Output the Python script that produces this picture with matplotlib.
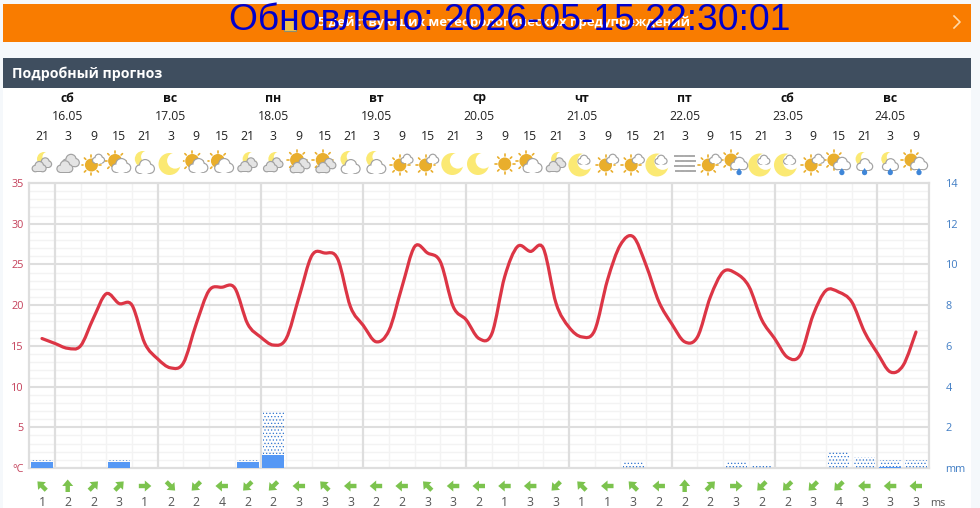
import numpy as np
import matplotlib
matplotlib.use('Agg')
import matplotlib.pyplot as plt
from matplotlib.path import Path
from matplotlib.patches import PathPatch, Rectangle, Circle, Polygon

plt.rcParams['font.family'] = ['Open Sans', 'DejaVu Sans']
plt.rcParams['hatch.linewidth'] = 0.5

TITLE = 'Подробный прогноз'
BANNER = '5 действующих метеорологических предупреждений'
STAMP = 'Обновлено: 2026-05-15 22:30:01'
DAY_NAMES = ['сб', 'вс', 'пн', 'вт', 'ср', 'чт', 'пт', 'сб', 'вс']
DATES = ['16.05', '17.05', '18.05', '19.05', '20.05', '21.05', '22.05', '23.05', '24.05']
HOURS = [21, 3, 9, 15] * 8 + [21, 3, 9]
# temperature every 3 hours, starting at the first 21h column
TEMP = [15.9, 15.3, 14.7, 15.0, 18.4, 21.4, 20.2, 20.0, 15.3, 13.4, 12.3, 12.9,
        17.7, 21.8, 22.2, 22.1, 17.7, 16.1, 15.1, 15.9, 21.0, 26.1, 26.4, 25.7,
        19.8, 17.5, 15.5, 16.9, 22.2, 27.2, 26.4, 25.3, 19.8, 18.2, 15.9, 16.5,
        23.5, 27.2, 26.6, 27.0, 20.2, 17.3, 16.1, 16.9, 23.1, 27.4, 28.4, 24.9,
        20.4, 17.7, 15.5, 16.1, 21.0, 24.1, 23.9, 22.3, 18.2, 15.9, 13.6, 13.9,
        18.8, 21.8, 21.6, 20.4, 16.7, 14.1, 11.8, 12.6, 16.7]
RAIN_SOLID = [0.3, 0, 0, 0.3, 0, 0, 0, 0, 0.3, 0.65, 0, 0, 0, 0, 0, 0, 0, 0,
              0, 0, 0, 0, 0, 0, 0, 0, 0, 0, 0, 0, 0, 0, 0, 0.05, 0]
RAIN_TOTAL = [0.4, 0, 0, 0.4, 0, 0, 0, 0, 0.4, 2.75, 0, 0, 0, 0, 0, 0, 0, 0,
              0, 0, 0, 0, 0, 0.3, 0, 0, 0, 0.3, 0.1, 0, 0, 0.85, 0.55, 0.4, 0.4]
WIND_SPEED = [1, 2, 2, 3, 1, 2, 2, 4, 2, 2, 3, 3, 3, 2, 2, 3, 3, 2,
              1, 3, 3, 1, 1, 3, 2, 2, 2, 3, 2, 2, 3, 4, 3, 3, 3]
WIND_DIR = ['NW', 'N', 'NE', 'NE', 'E', 'SE', 'SW', 'W', 'SW', 'SW', 'W', 'NW', 'W', 'W', 'W', 'NW', 'W', 'W',
            'W', 'W', 'SW', 'NW', 'W', 'NW', 'W', 'N', 'NE', 'E', 'SW', 'SW', 'SW', 'SW', 'W', 'W', 'W']
ICONS = ['nc2', 'cc', 'sc', 'cs', 'mc', 'm', 'cs', 'cs', 'nc2', 'nc2', 'scc', 'scc', 'mc', 'mc', 'sc', 'sc', 'm', 'm',
         's', 'cs', 'nc2', 'ms', 'sc', 'sc', 'ms', 'fog', 'sc', 'csr', 'ms', 'ms', 'sc', 'csr', 'mcr', 'mcr', 'csr']

W, H = 980, 508
PAGE = '#f5f8fb'
RED = '#dc3545'
TICK_RED = '#c4405a'
TICK_BLUE = '#3f7cc4'
GRID_MAJOR = '#dedede'
GRID_MINOR = '#f3f3f3'

fig = plt.figure(figsize=(W / 100, H / 100), dpi=100, facecolor=PAGE)

bg = fig.add_axes([0, 0, 1, 1], zorder=0)
bg.set_xlim(0, W); bg.set_ylim(H, 0); bg.axis('off')
bg.add_patch(Rectangle((3, 88), 968, 420, fc='white', ec='none'))
bg.add_patch(Rectangle((3, 4), 968, 38, fc='#f97c00', ec='none'))
bg.add_patch(Rectangle((3, 58), 968, 30, fc='#3f4e5f', ec='none'))
bg.text(12, 73.5, TITLE, color='white', fontsize=10.2, fontweight='bold', va='center', ha='left')
bg.text(504, 22.5, BANNER, color='white', fontsize=9.4, fontweight='bold', va='center', ha='center')
bg.add_patch(Rectangle((284, 18), 12, 13, fc='#f2c14e', ec='#8d8d70', lw=0.8))
bg.plot([954, 960, 954], [16, 22, 28], color='#ffd9a8', lw=1.2)

L, R, T, B = 29.15, 928.85, 183, 468
ax = fig.add_axes([L / W, 1 - B / H, (R - L) / W, (B - T) / H], zorder=2)
ax.set_xlim(-0.5, 34.5)
ax.set_ylim(0, 35)
ax.patch.set_alpha(0)
for s in ax.spines.values():
    s.set_color(GRID_MAJOR); s.set_linewidth(1.6)
ax.set_yticks(range(0, 36, 5))
ax.set_yticklabels(['°C'] + [str(v) for v in range(5, 36, 5)], color=TICK_RED, fontsize=7.8)
ax.set_yticks(range(0, 36), minor=True)
day_edges = [i + 0.5 for i in range(0, 34, 4)]
ax.set_xticks(day_edges)
ax.set_xticks([i + 0.5 for i in range(34) if i % 4], minor=True)
ax.set_xticklabels([])
ax.tick_params(which='both', length=0)
ax.tick_params(axis='y', pad=4)
ax.grid(which='minor', color=GRID_MINOR, lw=1.0)
ax.set_axisbelow(True)
for v in range(5, 35, 5):
    ax.axhline(v, color=GRID_MAJOR, lw=1.5, zorder=1)
for e in day_edges:
    ax.axvline(e, color=GRID_MAJOR, lw=1.6, zorder=1)

rain = ax.twinx()
rain.set_ylim(0, 14)
rain.patch.set_alpha(0)
for s in rain.spines.values():
    s.set_visible(False)
rain.set_yticks(range(0, 15, 2))
rain.set_yticklabels(['mm'] + [str(v) for v in range(2, 15, 2)], color=TICK_BLUE, fontsize=7.8)
rain.tick_params(length=0, pad=12)
slots = np.arange(len(RAIN_TOTAL))
rain.bar(slots, RAIN_TOTAL, width=0.82, facecolor='none', edgecolor='#2f74d0', linewidth=0, hatch='.....')
rain.bar(slots, RAIN_SOLID, width=0.86, color='#5598f5')

tx = np.arange(len(TEMP)) * 0.5
ty = np.array(TEMP)
verts = [(tx[0], ty[0])]
codes = [Path.MOVETO]
n = len(tx)
for k in range(n - 1):
    p0 = np.array([tx[max(k - 1, 0)], ty[max(k - 1, 0)]])
    p1 = np.array([tx[k], ty[k]])
    p2 = np.array([tx[k + 1], ty[k + 1]])
    p3 = np.array([tx[min(k + 2, n - 1)], ty[min(k + 2, n - 1)]])
    verts += [tuple(p1 + (p2 - p0) / 6), tuple(p2 - (p3 - p1) / 6), tuple(p2)]
    codes += [Path.CURVE4] * 3
rain.add_patch(PathPatch(Path(verts, codes), fc='none', ec=RED, lw=2.3, capstyle='round',
                         transform=ax.transData, zorder=5))

ov = fig.add_axes([0, 0, 1, 1], zorder=3)
ov.set_xlim(0, W); ov.set_ylim(H, 0); ov.axis('off'); ov.patch.set_alpha(0)
fig.canvas.draw()
def px(i):
    return ax.transData.transform((i, 0))[0]

for d, (name, date) in enumerate(zip(DAY_NAMES, DATES)):
    x = px(1 + 4 * d)
    ov.text(x, 98, name, fontsize=8.8, fontweight='bold', ha='center', va='center', color='#111111')
    ov.text(x, 116, date, fontsize=8.8, ha='center', va='center', color='#222222')
for i, h in enumerate(HOURS):
    ov.text(px(i), 136, str(h), fontsize=8.8, ha='center', va='center', color='#222222')

YEL = '#fbe973'
SUN = '#e9ae2c'
GREY = '#a2a2a2'

def circ(x, y, r, c, z=1):
    ov.add_patch(Circle((x, y), r, fc=c, ec='none', zorder=z))

def cloud(x, y, w, fill='white', edge=GREY, z=2):
    blobs = [(-0.28, 0.12, 0.2), (0.02, -0.1, 0.28), (0.28, 0.1, 0.22)]
    for pad, col, zz in ((1.2, edge, z), (0, fill, z + 0.1)):
        for bx, by, br in blobs:
            circ(x + bx * w, y + by * w, br * w + pad, col, zz)
        ov.add_patch(Rectangle((x - 0.3 * w - pad / 2, y + 0.05 * w), 0.6 * w + pad, 0.27 * w + pad * 0.6,
                               fc=col, ec='none', zorder=zz))

def sun(x, y, r, z=1):
    circ(x, y, r, SUN, z)
    for a in np.arange(0, 360, 45):
        c, s = np.cos(np.radians(a)), np.sin(np.radians(a))
        ov.plot([x + c * (r + 1.5), x + c * (r + 3.4)], [y + s * (r + 1.5), y + s * (r + 3.4)],
                color=SUN, lw=1.2, zorder=z, solid_capstyle='round')

def moon(x, y, r, z=1):
    circ(x, y, r, YEL, z)
    circ(x + 0.5 * r, y - 0.3 * r, 0.72 * r, 'white', z + 0.01)

def drop(x, y):
    ov.add_patch(Polygon([(x, y - 4), (x + 2.6, y), (x - 2.6, y)], fc='#3f86d8', ec='none', zorder=4))
    circ(x, y + 0.6, 2.6, '#3f86d8', 4)

def icon(kind, x, y=164):
    if kind == 'nc2':
        moon(x + 2, y - 5, 7)
        cloud(x + 3, y - 1, 12, '#e4e4e4')
        cloud(x - 3, y + 3, 13, '#e4e4e4', z=3)
    elif kind == 'cc':
        cloud(x + 3, y - 3, 16, '#e4e4e4')
        cloud(x - 3, y + 3, 15, '#e4e4e4', z=3)
    elif kind == 'sc':
        sun(x - 2, y + 1, 6.5)
        cloud(x + 5, y - 5, 11, 'white')
    elif kind == 'cs':
        sun(x - 4, y - 3, 7)
        cloud(x + 2, y + 2, 18, 'white')
    elif kind == 'scc':
        sun(x - 2, y - 4, 7)
        cloud(x + 4, y, 13, '#e4e4e4')
        cloud(x - 2, y + 4, 13, '#e4e4e4', z=3)
    elif kind == 'mc':
        moon(x - 2, y - 5, 8)
        cloud(x, y + 3, 18, 'white')
    elif kind == 'm':
        moon(x - 1, y, 11)
    elif kind == 'ms':
        moon(x - 2, y + 1, 11.5)
        cloud(x + 2, y - 4, 11, 'white')
    elif kind == 's':
        sun(x, y, 6.5)
    elif kind == 'fog':
        for r, yy in enumerate((-8, -3, 2, 7)):
            for c in range(4):
                ov.plot([x - 10 + c * 5.2 + (r % 2), x - 6.5 + c * 5.2 + (r % 2)], [y + yy] * 2,
                        color='#a9a9a9', lw=1.4, zorder=2)
    elif kind == 'csr':
        sun(x - 5, y - 4, 6.5)
        cloud(x + 3, y + 0, 16, 'white')
        drop(x + 3, y + 8)
    elif kind == 'mcr':
        moon(x - 2, y - 5, 7)
        cloud(x, y + 1, 15, 'white')
        drop(x, y + 8)

for i, k in enumerate(ICONS):
    icon(k, px(i))

ANGLE = {'E': 0, 'NE': 45, 'N': 90, 'NW': 135, 'W': 180, 'SW': 225, 'S': 270, 'SE': 315}
SHAPE = np.array([[-6, -2.2], [0, -2.2], [0, -5.5], [6.5, 0], [0, 5.5], [0, 2.2], [-6, 2.2]], float)
for i, (d, sp) in enumerate(zip(WIND_DIR, WIND_SPEED)):
    a = np.radians(ANGLE[d])
    rot = np.array([[np.cos(a), np.sin(a)], [-np.sin(a), np.cos(a)]])
    ov.add_patch(Polygon(SHAPE @ rot.T + [px(i), 486], fc='#7cc34e', ec='none'))
    ov.text(px(i), 502.5, str(sp), fontsize=8.8, ha='center', va='center', color='#555555')
ov.text(938, 504, 'ms', fontsize=7.8, ha='center', va='center', color='#555555')

ov.text(510, 20.5, STAMP, fontsize=26.8, family='Liberation Sans', color='#0000cc', ha='center', va='center', zorder=10)

fig.savefig('out.png', dpi=100, facecolor=PAGE)
